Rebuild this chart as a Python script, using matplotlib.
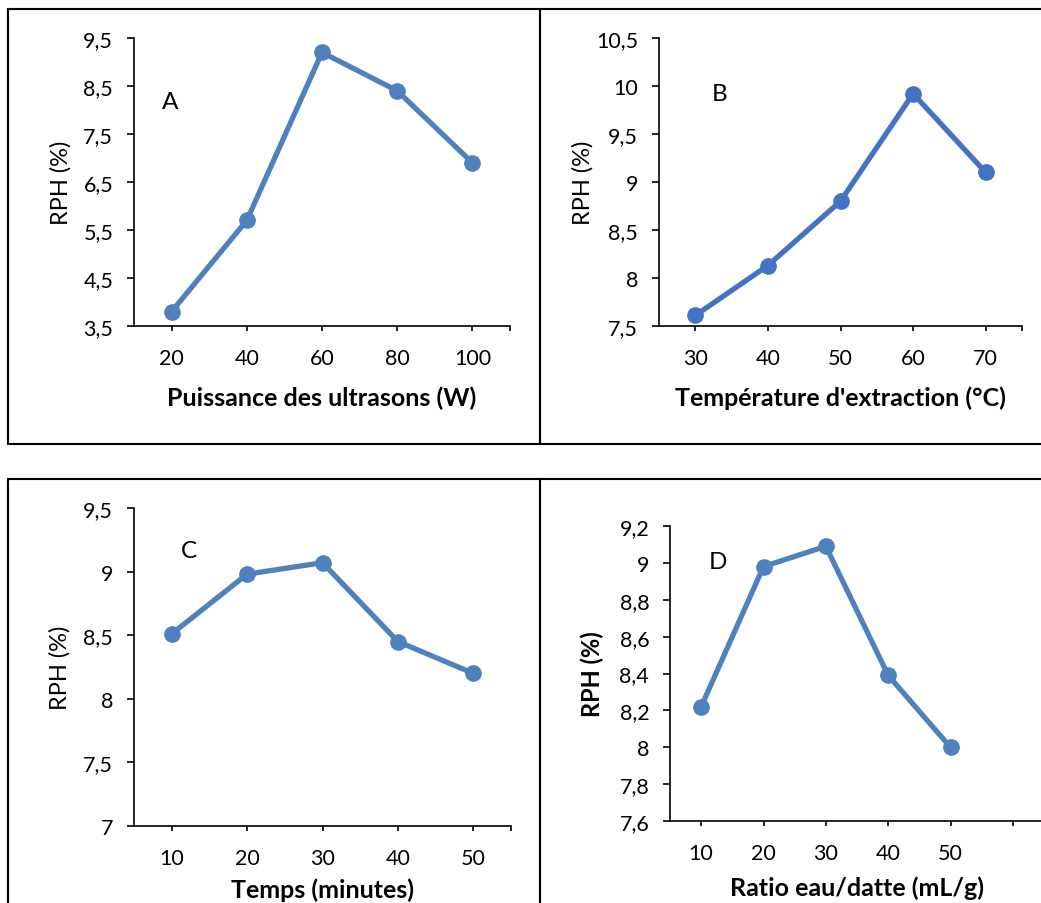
import matplotlib.pyplot as plt
from matplotlib.patches import Rectangle
from matplotlib.ticker import FuncFormatter

plt.rcParams['font.family'] = ['Lato', 'DejaVu Sans']

# RPH (%) measured for each extraction parameter
power_w = [20, 40, 60, 80, 100]
rph_power = [3.8, 5.7, 9.2, 8.4, 6.9]

temp_c = [30, 40, 50, 60, 70]
rph_temp = [7.61, 8.13, 8.8, 9.92, 9.1]

time_min = [10, 20, 30, 40, 50]
rph_time = [8.51, 8.98, 9.07, 8.45, 8.2]

ratio_ml_g = [10, 20, 30, 40, 50]
rph_ratio = [8.22, 8.98, 9.09, 8.39, 8.0]

W, H = 1041, 904
fig = plt.figure(figsize=(W / 100, H / 100), dpi=100)


def px_rect(left, top, right, bottom):
    # pixel box (origin top-left) -> figure fraction rect
    return [left / W, 1 - bottom / H, (right - left) / W, (bottom - top) / H]


def frame(left, top, right, bottom):
    fig.add_artist(Rectangle((left / W, 1 - bottom / H), (right - left) / W,
                             (bottom - top) / H, transform=fig.transFigure,
                             fill=False, ec='black', lw=1.5))


frame(7.5, 10, 540, 445)
frame(540, 10, 1070, 445)
frame(7.5, 480, 540, 940)
frame(540, 480, 1070, 940)

comma = FuncFormatter(lambda v, pos: f'{v:g}'.replace('.', ','))

panels = [
    dict(rect=(134, 39, 510, 327), x=power_w, y=rph_power, color='#4F81BD',
         xlim=(10, 110), xticks=[20, 40, 60, 80, 100, 110],
         ylim=(3.5, 9.5), yticks=[3.5, 4.5, 5.5, 6.5, 7.5, 8.5, 9.5],
         letter='A', letter_pos=(0.096, 0.781),
         xlabel='Puissance des ultrasons (W)', xlabel_y=-0.246,
         ylabel_x=-0.195, ylabel_bold=False),
    dict(rect=(659, 39, 1022, 327), x=temp_c, y=rph_temp, color='#4472C4',
         xlim=(25, 75), xticks=[30, 40, 50, 60, 70, 75],
         ylim=(7.5, 10.5), yticks=[7.5, 8, 8.5, 9, 9.5, 10, 10.5],
         letter='B', letter_pos=(0.168, 0.809),
         xlabel="Température d'extraction (°C)", xlabel_y=-0.246,
         ylabel_x=-0.211, ylabel_bold=False),
    dict(rect=(134, 509, 511, 827), x=time_min, y=rph_time, color='#4F81BD',
         xlim=(5, 55), xticks=[10, 20, 30, 40, 50, 55],
         ylim=(7, 9.5), yticks=[7, 7.5, 8, 8.5, 9, 9.5],
         letter='C', letter_pos=(0.146, 0.865),
         xlabel='Temps (minutes)', xlabel_y=-0.198,
         ylabel_x=-0.197, ylabel_bold=False),
    dict(rect=(670, 527, 1044, 822), x=ratio_ml_g, y=rph_ratio, color='#4F81BD',
         xlim=(5, 65), xticks=[10, 20, 30, 40, 50, 60],
         ylim=(7.6, 9.2), yticks=[7.6, 7.8, 8, 8.2, 8.4, 8.6, 8.8, 9, 9.2],
         letter='D', letter_pos=(0.128, 0.881),
         xlabel='Ratio eau/datte (mL/g)', xlabel_y=-0.224,
         ylabel_x=-0.207, ylabel_bold=True),
]

for p in panels:
    ax = fig.add_axes(px_rect(*p['rect']))
    ax.plot(p['x'], p['y'], color=p['color'], lw=3.8, marker='o',
            markersize=11, solid_capstyle='round', clip_on=False)
    ax.set_xlim(*p['xlim'])
    ax.set_ylim(*p['ylim'])
    ax.set_xticks(p['xticks'])
    # the last tick only closes the axis, it carries no label
    ax.set_xticklabels([str(v) if v in p['x'] else '' for v in p['xticks']])
    ax.set_yticks(p['yticks'])
    ax.yaxis.set_major_formatter(comma)

    for side in ('top', 'right'):
        ax.spines[side].set_visible(False)
    for side in ('left', 'bottom'):
        ax.spines[side].set_linewidth(1.2)
    ax.tick_params(axis='y', direction='out', length=5, width=1.2,
                   pad=10, labelsize=15.5)
    ax.tick_params(axis='x', direction='out', length=3.8, width=1.2,
                   pad=12, labelsize=15.5)

    ax.set_xlabel(p['xlabel'], fontsize=18, fontweight='bold', va='center')
    ax.xaxis.set_label_coords(0.5, p['xlabel_y'])
    ax.set_ylabel('RPH (%)', fontsize=17, va='center',
                  fontweight='bold' if p['ylabel_bold'] else 'normal')
    ax.yaxis.set_label_coords(p['ylabel_x'], 0.5)

    ax.text(*p['letter_pos'], p['letter'], transform=ax.transAxes,
            fontsize=17.5, ha='center', va='center')

fig.savefig('out.png', dpi=100)
